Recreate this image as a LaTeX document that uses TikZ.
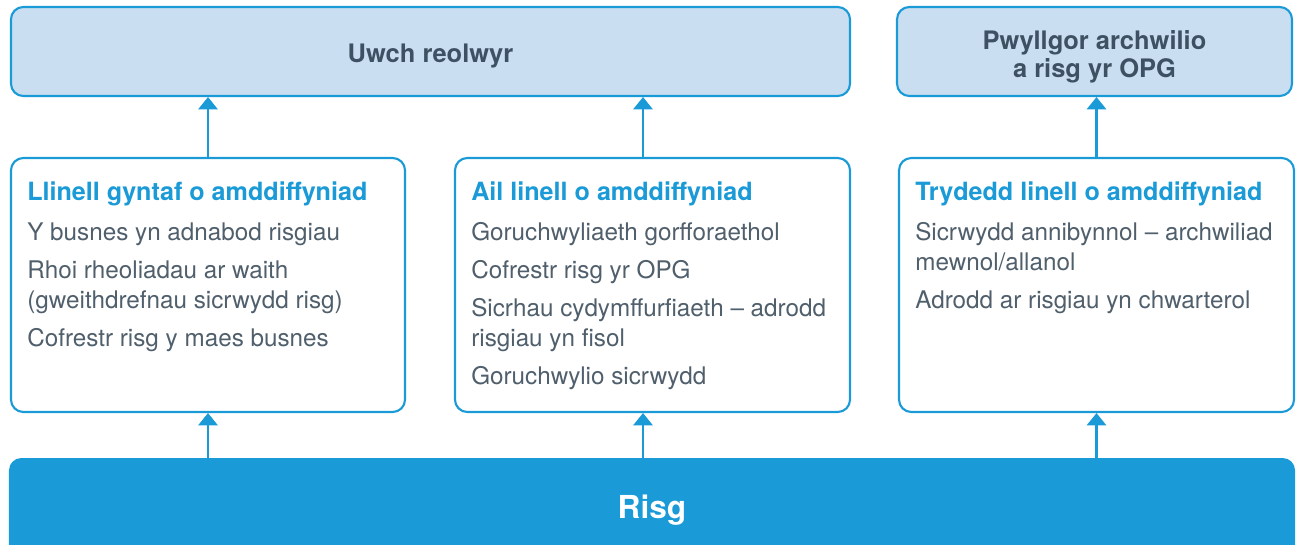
\documentclass[tikz,border=0pt]{standalone}
\usepackage{fontspec}
\setmainfont{TeX Gyre Heros}
\usetikzlibrary{arrows.meta,positioning}
\definecolor{riskblue}{HTML}{1A9AD6}
\definecolor{paleblue}{HTML}{C9DFF1}
\definecolor{slatetext}{HTML}{3E5163}
\definecolor{bodytext}{HTML}{505F6C}
\tikzset{
	board/.style={draw=riskblue, line width=1.2pt, fill=paleblue, rounded corners=7pt},
	boardtext/.style={text=slatetext, align=center, inner sep=0pt,
		font=\bfseries\fontsize{14.5}{16}\selectfont},
	linebox/.style={draw=riskblue, line width=1.2pt, fill=white, rounded corners=7pt},
	linetext/.style={anchor=north west, inner sep=0pt, align=left, text=bodytext,
		font=\fontsize{13.8}{17.1}\selectfont},
	riskbar/.style={fill=riskblue, rounded corners=7pt, text=white,
		font=\bfseries\fontsize{18}{20}\selectfont},
	upflow/.style={draw=riskblue, line width=1.2pt, -{Triangle[width=11pt,length=7pt]}},
}
\newcommand{\linehead}[1]{{\color{riskblue}\bfseries\fontsize{14.3}{17.1}\selectfont #1}}
\begin{document}
\begin{tikzpicture}
	\path[use as bounding box, clip] (0.00,0.00) rectangle (26.02,-10.88);
	% top row
	\node[board, minimum width=16.78cm, minimum height=1.78cm] (senior) at (8.61,-1.03) {};
	\node[board, minimum width=7.90cm, minimum height=1.78cm] (audit) at (21.89,-1.03) {};
	\node[boardtext] (seniortext) at ([yshift=-0.08cm]senior.center) {Uwch reolwyr};
	\node[boardtext] (audittext) at ([yshift=-0.10cm]audit.center) {Pwyllgor archwilio\\a risg yr OPG};
	% three lines of defence
	\node[linebox, minimum width=7.88cm, minimum height=5.08cm] (first) at (4.16,-5.70) {};
	\node[linebox, minimum width=7.90cm, minimum height=5.08cm] (second) at (13.05,-5.70) {};
	\node[linebox, minimum width=7.90cm, minimum height=5.08cm] (third) at (21.93,-5.70) {};
	\node[linetext] (firsttext) at ([xshift=0.34cm,yshift=-0.48cm]first.north west)
		{\linehead{Llinell gyntaf o amddiffyniad}\\[5.7pt]
		Y busnes yn adnabod risgiau\\[4.5pt]
		Rhoi rheoliadau ar waith\\
		(gweithdrefnau sicrwydd risg)\\[4.5pt]
		Cofrestr risg y maes busnes};
	\node[linetext] (secondtext) at ([xshift=0.34cm,yshift=-0.48cm]second.north west)
		{\linehead{Ail linell o amddiffyniad}\\[5.7pt]
		Goruchwyliaeth gorfforaethol\\[4.5pt]
		Cofrestr risg yr OPG\\[4.5pt]
		Sicrhau cydymffurfiaeth – adrodd\\
		risgiau yn fisol\\[4.5pt]
		Goruchwylio sicrwydd};
	\node[linetext] (thirdtext) at ([xshift=0.34cm,yshift=-0.48cm]third.north west)
		{\linehead{Trydedd linell o amddiffyniad}\\[5.7pt]
		Sicrwydd annibynnol – archwiliad\\
		mewnol/allanol\\[4.5pt]
		Adrodd ar risgiau yn chwarterol};
	% risk bar
	\node[riskbar, minimum width=25.72cm, minimum height=2.08cm] (risk) at (13.04,-10.20) {Risg};
	% arrows
	\draw[upflow] (first.north) -- (first.north |- senior.south);
	\draw[upflow] ([xshift=-0.19cm]second.north) -- ([xshift=-0.19cm]second.north |- senior.south);
	\draw[upflow] (third.north) -- (third.north |- audit.south);
	\draw[upflow] (first.south |- risk.north) -- (first.south);
	\draw[upflow] ([xshift=-0.19cm]second.south |- risk.north) -- ([xshift=-0.19cm]second.south);
	\draw[upflow] (third.south |- risk.north) -- (third.south);
\end{tikzpicture}
\end{document}
